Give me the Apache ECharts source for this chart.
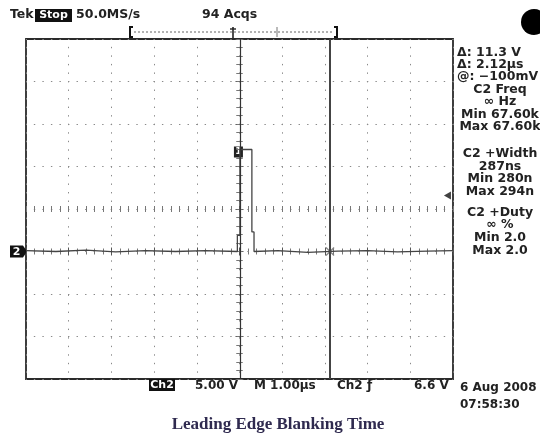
<!DOCTYPE html>
<html><head><meta charset="utf-8">
<script src="https://cdn.jsdelivr.net/npm/echarts@6/dist/echarts.min.js"></script>
<style>html,body{margin:0;padding:0;background:#fff}#c{width:540px;height:437px}</style>
</head><body><div id="c"></div>
<script>
// ---- data (time in µs, Ch2 in V) ----
const traceTime = [-5, -4.3, -3.6, -2.9, -2.2, -1.5, -0.8, -0.05, -0.05, 0.01, 0.01, 0.29, 0.29, 0.34, 0.34, 0.9, 1.6, 2.3, 3.0, 3.7, 4.4, 5];
const traceVolt = [0.1, 0.0, 0.15, -0.05, 0.1, 0.0, 0.1, 0.0, 1.9, 1.9, 12.0, 12.0, 2.3, 2.3, 0.0, 0.1, -0.1, 0.05, 0.1, -0.05, 0.05, 0.1];
const cursorTimes = [0.01, 2.12];
const groundVolt = 0;
const triggerVolt = 6.6;
const xRange = [-5, 5, 1];     // min, max, interval (1 µs/div)
const yRange = [-15, 25, 5];   // min, max, interval (5 V/div)
const headerTexts = ['Tek', 'Stop', '50.0MS/s', '94 Acqs'];
const panelLeft = ['Δ: 11.3 V', 'Δ: 2.12µs', '@: −100mV'];
const panelCenter = ['C2 Freq', '∞ Hz', 'Min 67.60k', 'Max 67.60k', 'C2 +Width', '287ns', 'Min 280n', 'Max 294n', 'C2 +Duty', '∞ %', 'Min 2.0', 'Max 2.0'];
const footerTexts = ['Ch2', '5.00 V', 'M 1.00µs', 'Ch2 ƒ', '6.6 V', '6 Aug 2008', '07:58:30'];
const titleText = 'Leading Edge Blanking Time';

const FONT = 'DejaVu Sans, sans-serif';
const TXT = '#222';
const chart = echarts.init(document.getElementById('c'), null, {renderer: 'canvas'});

const dotted = {color: '#8a8a8a', width: 1, type: [1.4, 7.14], dashOffset: 0.7};
function xAx(pos, extra) {
  return Object.assign({type: 'value', min: xRange[0], max: xRange[1], interval: xRange[2], position: pos,
    axisLabel: {show: false}, axisLine: {show: false}, splitLine: {show: false},
    axisTick: {show: true, inside: true, length: 4, lineStyle: {color: '#555'}},
    minorTick: {show: true, splitNumber: 5, length: 3, lineStyle: {color: '#777'}}}, extra || {});
}
function yAx(pos, extra) {
  return Object.assign({type: 'value', min: yRange[0], max: yRange[1], interval: yRange[2], position: pos,
    axisLabel: {show: false}, axisLine: {show: false}, splitLine: {show: false},
    axisTick: {show: true, inside: true, length: 4, lineStyle: {color: '#555'}},
    minorTick: {show: true, splitNumber: 5, length: 3, lineStyle: {color: '#777'}}}, extra || {});
}

const option = {
  animation: false,
  backgroundColor: '#fff',
  grid: {left: 26, top: 39, width: 427, height: 340, show: true, borderColor: '#2a2a2a', borderWidth: 1.8, backgroundColor: 'transparent'},
  xAxis: [
    xAx('bottom', {splitLine: {show: true, lineStyle: dotted}}),
    xAx('top'),
    xAx('bottom', {offset: -170, axisTick: {show: true, inside: true, length: 3, lineStyle: {color: '#777'}}}),
    xAx('bottom', {offset: -170, axisTick: {show: true, inside: false, length: 3, lineStyle: {color: '#777'}}})
  ],
  yAxis: [
    yAx('left', {splitLine: {show: true, lineStyle: dotted}}),
    yAx('right'),
    yAx('left', {offset: -213.5, axisTick: {show: true, inside: true, length: 3, lineStyle: {color: '#777'}}}),
    yAx('left', {offset: -213.5, axisTick: {show: true, inside: false, length: 3, lineStyle: {color: '#777'}}})
  ],
  series: [
    {
      type: 'line', xAxisIndex: 0, yAxisIndex: 0, symbol: 'none', silent: true,
      data: traceTime.map((t, i) => [t, traceVolt[i]]),
      lineStyle: {color: '#444', width: 1.3},
      markLine: {
        symbol: 'none', silent: true, label: {show: false},
        data: [
          {xAxis: cursorTimes[0], lineStyle: {color: '#333', width: 1.2, type: 'solid'}},
          {xAxis: cursorTimes[1], lineStyle: {color: '#444', width: 2, type: 'solid'}}
        ]
      }
    },
    {
      type: 'scatter', xAxisIndex: 0, yAxisIndex: 0, silent: true,
      symbol: 'path://M0,1L1,0L5,4L9,0L10,1L6,5L10,9L9,10L5,6L1,10L0,9L4,5Z',
      symbolSize: 9, itemStyle: {color: '#666'},
      data: [[cursorTimes[1], groundVolt]]
    },
    {
      type: 'scatter', xAxisIndex: 0, yAxisIndex: 0, silent: true,
      symbol: 'path://M0,5L9,0L9,10Z', symbolSize: [7, 8], itemStyle: {color: '#111'},
      data: [[xRange[1] - 0.13, triggerVolt]]
    }
  ]
};
chart.setOption(option);

// ---- annotations (text) ----
const g = [];
function txt(x, y, s, o) {
  g.push({type: 'text', x: x, y: y, silent: true, style: Object.assign({text: s, fill: TXT, font: '12px ' + FONT, textAlign: 'left', textVerticalAlign: 'middle'}, o || {})});
}
const PF = 'bold 12.5px ' + FONT;
// header
txt(10, 15, headerTexts[0], {font: 'bold 12.5px ' + FONT});
g.push({type: 'rect', shape: {x: 35, y: 9, width: 37, height: 13}, style: {fill: '#111'}, silent: true});
txt(53.5, 15.5, headerTexts[1], {fill: '#fff', textAlign: 'center', font: 'bold 11px ' + FONT});
txt(76, 15, headerTexts[2], {font: PF});
txt(202, 15, headerTexts[3], {font: PF});
// record bar
g.push({type: 'polyline', shape: {points: [[133, 27], [130, 27], [130, 37], [133, 37]]}, style: {stroke: '#111', lineWidth: 2, fill: null}, silent: true});
g.push({type: 'polyline', shape: {points: [[334, 27], [337, 27], [337, 37], [334, 37]]}, style: {stroke: '#111', lineWidth: 2, fill: null}, silent: true});
g.push({type: 'line', shape: {x1: 134, y1: 32, x2: 333, y2: 32}, style: {stroke: '#999', lineWidth: 1.5, lineDash: [2, 2]}, silent: true});
g.push({type: 'line', shape: {x1: 277, y1: 27, x2: 277, y2: 37}, style: {stroke: '#777', lineWidth: 1}, silent: true});
g.push({type: 'line', shape: {x1: 233, y1: 27, x2: 233, y2: 38}, style: {stroke: '#222', lineWidth: 1.6}, silent: true});
g.push({type: 'line', shape: {x1: 230, y1: 29, x2: 236, y2: 29}, style: {stroke: '#222', lineWidth: 1.4}, silent: true});
// top-right dot
g.push({type: 'circle', shape: {cx: 534, cy: 22, r: 13}, style: {fill: '#000'}, silent: true});
// right panel
const panelLeftY = [53, 65, 77];
panelLeft.forEach((s, i) => txt(457, panelLeftY[i], s, {font: PF}));
const panelY = [90, 102, 115, 127, 154, 167, 179, 192, 213, 225, 238, 251];
panelCenter.forEach((s, i) => txt(500, panelY[i], s, {textAlign: 'center', font: PF}));
// footer
g.push({type: 'rect', shape: {x: 149, y: 379, width: 26, height: 12}, style: {fill: '#111'}, silent: true});
txt(162, 385.5, footerTexts[0], {fill: '#fff', textAlign: 'center', font: 'bold 11px ' + FONT});
const FF = 'bold 12px ' + FONT;
txt(195, 386, footerTexts[1], {font: FF});
txt(254, 386, footerTexts[2], {font: FF});
txt(337, 386, footerTexts[3], {font: FF});
txt(414, 386, footerTexts[4], {font: FF});
txt(460, 388, footerTexts[5], {font: FF});
txt(460, 405, footerTexts[6], {font: FF});
txt(278, 425, titleText, {textAlign: 'center', font: 'bold 17px "Liberation Serif", "Times New Roman", serif', fill: '#2f2a4f'});

// ground marker and pulse-top cursor box, tied to data coordinates
const gp = chart.convertToPixel({xAxisIndex: 0, yAxisIndex: 0}, [xRange[0], groundVolt]);
g.push({type: 'polygon', shape: {points: [[10, gp[1] - 6], [23, gp[1] - 6], [27, gp[1]], [23, gp[1] + 6], [10, gp[1] + 6]]}, style: {fill: '#111'}, silent: true});
txt(16.5, gp[1] + 0.5, '2', {fill: '#fff', textAlign: 'center', font: 'bold 11px ' + FONT});
const pp = chart.convertToPixel({xAxisIndex: 0, yAxisIndex: 0}, [cursorTimes[0], 12.0]);
g.push({type: 'rect', shape: {x: pp[0] - 6, y: pp[1] - 3, width: 9, height: 11}, style: {fill: '#222'}, silent: true});
txt(pp[0] - 1.5, pp[1] + 2.5, '1', {fill: '#fff', textAlign: 'center', font: 'bold 9px ' + FONT});

chart.setOption({graphic: g});
</script>
</body></html>
